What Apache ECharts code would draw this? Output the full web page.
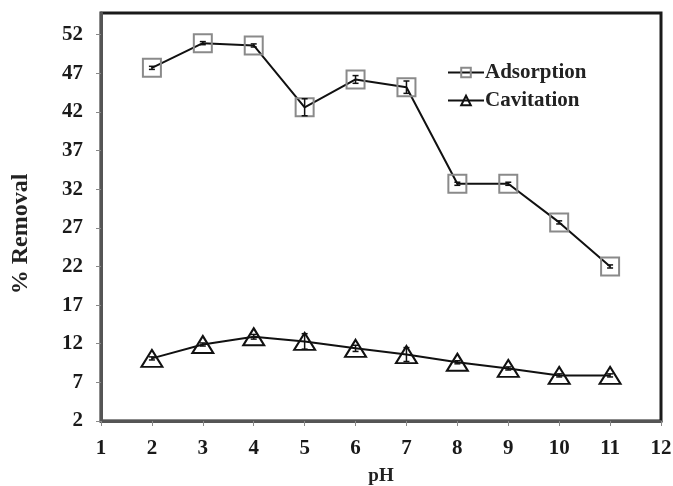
<!DOCTYPE html>
<html>
<head>
<meta charset="utf-8">
<script src="https://cdn.jsdelivr.net/npm/echarts@6/dist/echarts.min.js"></script>
<style>
  html, body { margin: 0; padding: 0; background: #fff; }
  #chart { width: 673px; height: 486px; }
</style>
</head>
<body>
<div id="chart"></div>
<script>
// pH values on the x axis
const phValues = [2, 3, 4, 5, 6, 7, 8, 9, 10, 11];

// % removal by adsorption and by cavitation
const adsorption = [47.7, 50.9, 50.6, 42.6, 46.2, 45.2, 32.7, 32.7, 27.7, 22.0];
const cavitation = [10.1, 11.9, 12.9, 12.3, 11.4, 10.6, 9.6, 8.8, 7.9, 7.9];

// Error bar half-widths
const adsorptionErr = [0.2, 0.2, 0.2, 1.1, 0.5, 0.8, 0.2, 0.2, 0.2, 0.2];
const cavitationErr = [0.2, 0.2, 0.3, 1.0, 0.4, 0.9, 0.2, 0.2, 0.2, 0.2];

const FONT = 'Liberation Serif';

function errData(vals, errs) {
  return phValues.map((x, i) => [x, vals[i] - errs[i], vals[i] + errs[i]]);
}

function renderErr(params, api) {
  const x = api.value(0);
  const lo = api.coord([x, api.value(1)]);
  const hi = api.coord([x, api.value(2)]);
  const cap = 3;
  const style = { stroke: '#111', lineWidth: 1.5, fill: null };
  return {
    type: 'group',
    children: [
      { type: 'line', shape: { x1: lo[0], y1: lo[1], x2: hi[0], y2: hi[1] }, style },
      { type: 'line', shape: { x1: lo[0] - cap, y1: lo[1], x2: lo[0] + cap, y2: lo[1] }, style },
      { type: 'line', shape: { x1: hi[0] - cap, y1: hi[1], x2: hi[0] + cap, y2: hi[1] }, style }
    ]
  };
}

const chart = echarts.init(document.getElementById('chart'), null, { renderer: 'canvas' });

chart.setOption({
  animation: false,
  backgroundColor: '#fff',
  textStyle: { fontFamily: FONT },
  grid: {
    left: 101, right: 12, top: 13, bottom: 65,
    outerBoundsMode: 'none',
    containLabel: false,
    show: true, borderColor: '#1a1a1a', borderWidth: 3, backgroundColor: 'transparent'
  },
  legend: {
    orient: 'vertical',
    left: 442, top: 57,
    itemWidth: 36, itemHeight: 12, itemGap: 7,
    textStyle: { fontFamily: FONT, fontWeight: 'bold', fontSize: 21, color: '#222', lineHeight: 21, padding: [0, 0, 0, -4] },
    data: ['Adsorption', 'Cavitation']
  },
  xAxis: {
    type: 'value',
    min: 1, max: 12, interval: 1,
    name: 'pH',
    nameLocation: 'middle',
    nameGap: 46,
    nameTextStyle: { fontFamily: FONT, fontWeight: 'bold', fontSize: 19, color: '#222' },
    axisLine: { show: true, lineStyle: { color: '#555', width: 3 } },
    axisTick: { show: true, length: 5, lineStyle: { color: '#888', width: 1 } },
    axisLabel: { fontFamily: FONT, fontWeight: 'bold', fontSize: 21, color: '#1a1a1a', margin: 17 },
    splitLine: { show: false }
  },
  yAxis: {
    type: 'value',
    min: 2, max: 54.8, interval: 5,
    name: '% Removal',
    nameLocation: 'middle',
    nameGap: 68,
    nameRotate: 90,
    nameTextStyle: { fontFamily: FONT, fontWeight: 'bold', fontSize: 24, color: '#222', padding: [0, 34, 0, 0] },
    axisLine: { show: true, lineStyle: { color: '#555', width: 3 } },
    axisTick: { show: true, length: 5, lineStyle: { color: '#888', width: 1 } },
    axisLabel: { fontFamily: FONT, fontWeight: 'bold', fontSize: 21, color: '#1a1a1a', margin: 18, showMaxLabel: false },
    splitLine: { show: false }
  },
  series: [
    {
      name: 'Adsorption',
      type: 'line',
      data: phValues.map((x, i) => [x, adsorption[i]]),
      symbol: 'rect',
      symbolSize: 18,
      lineStyle: { color: '#111', width: 2 },
      itemStyle: { color: 'rgba(255,255,255,0)', borderColor: '#8a8a8a', borderWidth: 2 },
      z: 3
    },
    {
      name: 'Cavitation',
      type: 'line',
      data: phValues.map((x, i) => [x, cavitation[i]]),
      symbol: 'triangle',
      symbolSize: [21, 17],
      lineStyle: { color: '#111', width: 2 },
      itemStyle: { color: 'rgba(255,255,255,0)', borderColor: '#111', borderWidth: 2 },
      z: 3
    },
    {
      type: 'custom',
      name: 'adsorption-err',
      data: errData(adsorption, adsorptionErr),
      encode: { x: 0, y: [1, 2] },
      renderItem: renderErr,
      z: 4
    },
    {
      type: 'custom',
      name: 'cavitation-err',
      data: errData(cavitation, cavitationErr),
      encode: { x: 0, y: [1, 2] },
      renderItem: renderErr,
      z: 4
    }
  ]
});
</script>
</body>
</html>
